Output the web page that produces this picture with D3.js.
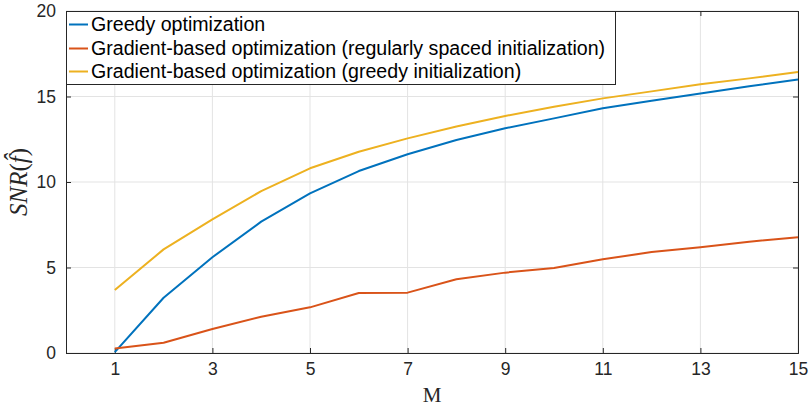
<!DOCTYPE html>
<html><head><meta charset="utf-8">
<script src="https://cdn.jsdelivr.net/npm/d3@7"></script>
<style>body{margin:0;background:#fff}svg{display:block}</style>
</head><body>
<svg id="c" width="809" height="409"></svg>
<script>
const M = [1,2,3,4,5,6,7,8,9,10,11,12,13,14,15];
const greedy = [0.05,3.23,5.6,7.68,9.34,10.64,11.62,12.46,13.14,13.72,14.31,14.75,15.18,15.6,16.0];
const gradRegular = [0.27,0.6,1.4,2.12,2.67,3.51,3.53,4.31,4.7,4.97,5.48,5.9,6.18,6.51,6.77];
const gradGreedy = [3.68,6.06,7.82,9.47,10.8,11.77,12.55,13.24,13.86,14.4,14.89,15.3,15.71,16.06,16.43];
const seriesNames = ["Greedy optimization","Gradient-based optimization (regularly spaced initialization)","Gradient-based optimization (greedy initialization)"];
const xTicks = [1,3,5,7,9,11,13,15];
const yTicks = [0,5,10,15,20];

const colors = ["#0072BD","#D95319","#EDB120"];
const svg = d3.select("#c");
const L=66,R=798,T=11,B=353;
const x = d3.scaleLinear().domain([0,15]).range([L,R]);
const y = d3.scaleLinear().domain([0,20]).range([B,T]);
const axisCol="#262626", gridCol="#e3e3e3";

// grid
svg.append("g").selectAll("line").data(xTicks).join("line")
  .attr("x1",d=>x(d)).attr("x2",d=>x(d)).attr("y1",T).attr("y2",B)
  .attr("stroke",gridCol).attr("stroke-width",1);
svg.append("g").selectAll("line").data(yTicks).join("line")
  .attr("x1",L).attr("x2",R).attr("y1",d=>y(d)).attr("y2",d=>y(d))
  .attr("stroke",gridCol).attr("stroke-width",1);

// axes
const font="'Liberation Sans', Arial, Helvetica, sans-serif";
const xa = svg.append("g").attr("transform",`translate(0,${B})`)
  .call(d3.axisBottom(x).tickValues(xTicks).tickSize(-5).tickPadding(10));
const xt = svg.append("g").attr("transform",`translate(0,${T})`)
  .call(d3.axisTop(x).tickValues(xTicks).tickSize(-5).tickFormat(""));
const ya = svg.append("g").attr("transform",`translate(${L},0)`)
  .call(d3.axisLeft(y).tickValues(yTicks).tickSize(-5).tickPadding(10));
const yr = svg.append("g").attr("transform",`translate(${R},0)`)
  .call(d3.axisRight(y).tickValues(yTicks).tickSize(-5).tickFormat(""));
[xa,xt,ya,yr].forEach(g=>{
  g.select(".domain").attr("stroke",axisCol).attr("stroke-width",1);
  g.selectAll(".tick line").attr("stroke",axisCol).attr("stroke-width",1);
  g.selectAll(".tick text").attr("fill","#262626").style("font-family",font).style("font-size","17.5px");
});
xa.selectAll(".tick text").attr("dy","0.71em");

// lines
const line = d3.line().x((d,i)=>x(M[i])).y(d=>y(d));
[greedy,gradRegular,gradGreedy].forEach((s,k)=>{
  svg.append("path").datum(s).attr("d",line).attr("fill","none")
    .attr("stroke",colors[k]).attr("stroke-width",2).attr("stroke-linejoin","round");
});

// legend
const lg = svg.append("g");
lg.append("rect").attr("x",L+0.5).attr("y",T+0.5).attr("width",615-L).attr("height",84-T)
  .attr("fill","#fff").attr("stroke",axisCol).attr("stroke-width",1);
const ly=[24.5,48.5,71.5];
seriesNames.forEach((n,k)=>{
  lg.append("line").attr("x1",69).attr("x2",88).attr("y1",ly[k]).attr("y2",ly[k])
    .attr("stroke",colors[k]).attr("stroke-width",2);
  lg.append("text").attr("x",91).attr("y",ly[k]).attr("dy","0.35em").text(n)
    .style("font-family",font).style("font-size","19.6px").attr("fill","#000");
});

// axis labels
svg.append("text").attr("x",(L+R)/2).attr("y",402).attr("text-anchor","middle")
  .style("font-family","'Liberation Serif','DejaVu Serif',serif").style("font-size","21px").attr("fill","#262626").text("M");
const yl = svg.append("text").attr("transform",`translate(27,${(T+B)/2}) rotate(-90)`).attr("text-anchor","middle")
  .style("font-family","'Liberation Serif','DejaVu Serif',serif").style("font-size","25px").style("font-style","italic").attr("fill","#262626");
yl.append("tspan").text("SNR");
yl.append("tspan").style("font-style","normal").text("(");
yl.append("tspan").text("f\u0302");
yl.append("tspan").style("font-style","normal").text(")");
</script>
</body></html>
